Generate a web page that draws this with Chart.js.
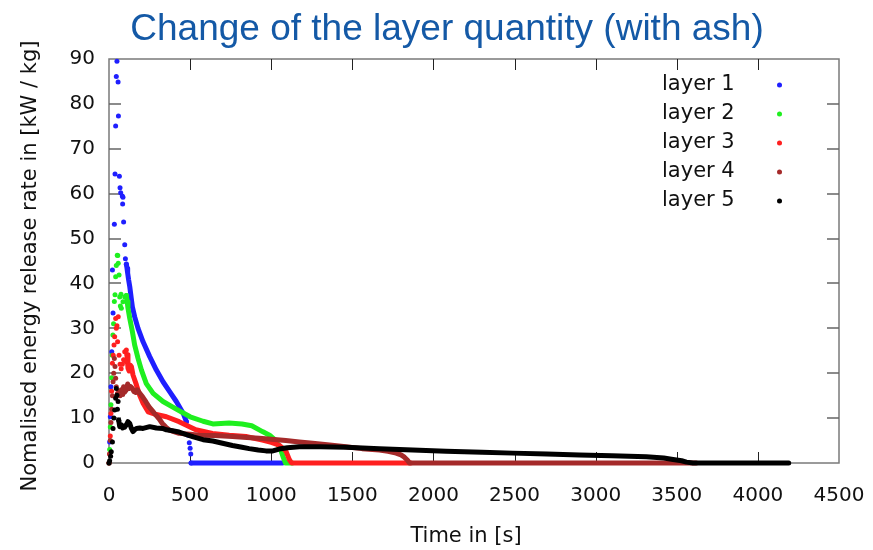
<!DOCTYPE html>
<html>
<head>
<meta charset="utf-8">
<script src="https://cdn.jsdelivr.net/npm/chart.js@4.4.1/dist/chart.umd.min.js"></script>
<style>
  html, body { margin: 0; padding: 0; background: #fff; }
  #wrap { width: 873px; height: 550px; position: relative; }
</style>
</head>
<body>
<div id="wrap"><canvas id="chart"></canvas></div>
<script>
// time in s / normalised energy release rate in kW/kg, one pair per layer
const layer1Time = [0, 4, 8, 12, 17, 21, 25, 33, 37, 41, 45, 49, 56, 58, 64, 68, 72, 82, 84, 86, 90, 97, 101, 107, 111, 115, 121, 128, 136, 144, 158, 179, 210, 251, 292, 333, 374, 415, 457, 477, 488, 495, 500, 504, 506, 1070];
const layer1Rate = [0, 4.7, 10.3, 17, 24.8, 43, 33.4, 53.2, 64.4, 75.1, 86.1, 89.5, 84.9, 77.3, 63.9, 61.3, 60.2, 59.5, 57.7, 59.2, 53.7, 48.6, 45.5, 44.3, 43.4, 42.3, 40.8, 39.3, 37, 34.8, 32.6, 30, 27, 23.7, 20.7, 18.1, 15.9, 13.7, 11.1, 9.2, 6.2, 4.5, 3.3, 2, 0, 0];

const layer2Time = [0, 4, 8, 12, 16, 20, 24, 28, 33, 37, 41, 45, 51, 54, 57, 62, 66, 70, 74, 76, 86, 97, 107, 112, 117, 128, 144, 158, 179, 200, 230, 272, 333, 415, 500, 580, 640, 740, 820, 880, 946, 990, 1029, 1060, 1075, 1088, 1130];
const layer2Rate = [0, 3, 8, 13, 19, 24, 28.5, 31, 36, 37.5, 41.5, 44, 46.3, 46.2, 44.5, 41.9, 37, 35, 37.6, 34.5, 35.9, 37, 37.3, 36, 34.5, 32.2, 29.3, 26.3, 23.3, 20.7, 17.7, 15.5, 13.7, 12, 10.3, 9.3, 8.7, 8.9, 8.7, 8.3, 7, 6.2, 5, 2.8, 1.2, 0, 0];

const layer3Time = [0, 4, 8, 12, 16, 21, 26, 31, 35, 41, 45, 49, 53, 57, 62, 68, 75, 82, 90, 97, 103, 107, 111, 117, 124, 131, 138, 148, 169, 189, 210, 241, 292, 354, 432, 535, 638, 741, 844, 946, 1000, 1049, 1090, 1111, 1125, 1860];
const layer3Rate = [0, 2, 6, 11, 16, 22.2, 24, 26.3, 28.1, 32.2, 30, 30.6, 27, 32.6, 24, 22, 21, 22, 23, 24.8, 22.6, 25.2, 24.1, 21.1, 20.5, 21.8, 21.5, 19.6, 17.4, 15.1, 13.3, 11.4, 10.8, 10.3, 9.2, 7.4, 6.6, 6.2, 5.9, 5.1, 4.6, 4, 2.7, 0.8, 0, 0];

const layer4Time = [0, 4, 8, 12, 17, 21, 25, 29, 33, 37, 41, 45, 52, 56, 62, 68, 76, 84, 90, 97, 107, 115, 123, 134, 144, 154, 165, 175, 190, 206, 228, 247, 268, 288, 310, 329, 350, 370, 400, 432, 500, 556, 650, 761, 850, 926, 1000, 1090, 1173, 1255, 1360, 1461, 1560, 1667, 1720, 1770, 1800, 1821, 1840, 1852, 3620];
const layer4Rate = [0, 2, 5, 9, 12, 15, 18.1, 20, 23.3, 21.5, 18.9, 17, 15.5, 15.1, 16, 15, 16.3, 15.3, 17, 15.8, 16.3, 17.6, 16.6, 17, 16.6, 15.9, 15.7, 16.3, 15.5, 14.8, 13.6, 12.5, 11.6, 10.7, 9.8, 8.8, 8, 7.4, 7, 6.6, 6.4, 6.2, 6.1, 5.9, 5.7, 5.5, 5.3, 5, 4.7, 4.4, 4, 3.6, 3.2, 2.9, 2.6, 2.2, 1.8, 1.3, 0.6, 0, 0];

const layer5Time = [0, 4, 10, 14, 21, 25, 30, 35, 41, 45, 49, 52, 56, 60, 66, 72, 76, 84, 90, 97, 107, 117, 128, 138, 148, 158, 169, 190, 210, 251, 292, 330, 354, 391, 432, 473, 520, 580, 640, 700, 761, 820, 864, 920, 967, 1010, 1049, 1100, 1173, 1300, 1461, 1667, 1872, 2078, 2300, 2489, 2700, 2900, 3100, 3312, 3420, 3477, 3530, 3560, 3600, 4190];
const layer5Rate = [0, 0.5, 1.5, 2.5, 4.7, 7.7, 10, 11.8, 14.4, 16.6, 15.1, 12, 13.7, 9.5, 8.1, 8.5, 8.5, 7.8, 8.2, 8, 8.5, 9.2, 8.8, 7.7, 7, 7.4, 7.7, 7.8, 7.7, 8.1, 7.8, 7.7, 7.4, 7.2, 6.9, 6.4, 5.8, 5.2, 4.9, 4.4, 3.9, 3.5, 3.2, 2.9, 2.7, 2.7, 3.1, 3.4, 3.6, 3.6, 3.5, 3.2, 2.9, 2.6, 2.4, 2.2, 2, 1.8, 1.6, 1.4, 1.1, 0.8, 0.5, 0.2, 0, 0];

const layerNames = ['layer 1', 'layer 2', 'layer 3', 'layer 4', 'layer 5'];
const layerColors = ['#1f1fff', '#1fef1f', '#ff1f1f', '#a52a2a', '#000000'];
// time spans where the samples are scattered and shown as single dots
const scatterSpans = [[[0, 107], [477, 506]], [[0, 107]], [[0, 111]], [[0, 84]], [[0, 60]]];

const xTicks = [0, 500, 1000, 1500, 2000, 2500, 3000, 3500, 4000, 4500];
const yTicks = [0, 10, 20, 30, 40, 50, 60, 70, 80, 90];

const times = [layer1Time, layer2Time, layer3Time, layer4Time, layer5Time];
const rates = [layer1Rate, layer2Rate, layer3Rate, layer4Rate, layer5Rate];

const inSpan = (spans, x) => spans.some(s => x >= s[0] && x <= s[1]);

const datasets = layerNames.map((name, i) => {
  const spans = scatterSpans[i];
  return {
    label: name,
    data: times[i].map((t, k) => ({ x: t, y: rates[i][k] })),
    borderColor: layerColors[i],
    backgroundColor: layerColors[i],
    borderWidth: 5,
    borderCapStyle: 'round',
    borderJoinStyle: 'round',
    pointBorderWidth: 0,
    pointRadius: ctx => (ctx.raw && inSpan(spans, ctx.raw.x) ? 2.5 : 0),
    pointHoverRadius: 0,
    tension: 0,
    clip: 6,
    order: layerNames.length - i,
    segment: {
      borderColor: ctx => {
        const a = ctx.p0.parsed.x, b = ctx.p1.parsed.x;
        const hidden = spans.some(s => a >= s[0] && b <= s[1]);
        return hidden ? 'rgba(0,0,0,0)' : layerColors[i];
      }
    }
  };
});

const FONT = '"DejaVu Sans", Verdana, sans-serif';

// frame with inward ticks on all four sides, plus title, axis titles and legend
const decorations = {
  id: 'decorations',
  beforeDatasetsDraw(chart) {
    const { ctx, chartArea: a, scales: { x, y } } = chart;
    ctx.save();
    ctx.strokeStyle = '#7a7a7a';
    ctx.lineWidth = 1.5;
    ctx.strokeRect(a.left, a.top, a.width, a.height);
    ctx.lineWidth = 1;
    ctx.strokeStyle = '#222';
    xTicks.slice(1, -1).forEach(v => {
      const px = Math.round(x.getPixelForValue(v)) + 0.5;
      ctx.beginPath();
      ctx.moveTo(px, a.bottom); ctx.lineTo(px, a.bottom - 11);
      ctx.moveTo(px, a.top); ctx.lineTo(px, a.top + 11);
      ctx.stroke();
    });
    ctx.strokeStyle = '#666';
    ctx.lineWidth = 1.5;
    yTicks.slice(1, -1).forEach(v => {
      const py = Math.round(y.getPixelForValue(v));
      ctx.beginPath();
      ctx.moveTo(a.left, py); ctx.lineTo(a.left + 12, py);
      ctx.moveTo(a.right, py); ctx.lineTo(a.right - 12, py);
      ctx.stroke();
    });
    ctx.restore();
  },
  afterDraw(chart) {
    const { ctx } = chart;
    ctx.save();
    ctx.fillStyle = '#1459a6';
    ctx.font = '37px "Liberation Sans", Arial, sans-serif';
    ctx.textAlign = 'center';
    ctx.textBaseline = 'alphabetic';
    ctx.fillText('Change of the layer quantity (with ash)', 447, 40);

    ctx.fillStyle = '#111';
    ctx.font = '21px ' + FONT;
    ctx.textBaseline = 'middle';
    ctx.fillText('Time in [s]', 466, 537);

    ctx.save();
    ctx.translate(31, 266);
    ctx.rotate(-Math.PI / 2);
    ctx.fillText('Nomalised energy release rate in [kW / kg]', 0, 0);
    ctx.restore();

    ctx.textAlign = 'left';
    layerNames.forEach((name, i) => {
      const yy = 85 + i * 29;
      ctx.fillStyle = '#111';
      ctx.fillText(name, 662, yy);
      ctx.fillStyle = layerColors[i];
      ctx.beginPath();
      ctx.arc(779.5, yy, 2.5, 0, Math.PI * 2);
      ctx.fill();
    });
    ctx.restore();
  }
};

new Chart(document.getElementById('chart'), {
  type: 'line',
  data: { datasets },
  plugins: [decorations],
  options: {
    responsive: true,
    maintainAspectRatio: false,
    animation: false,
    events: [],
    layout: { padding: { top: 59, right: 34, left: 0, bottom: 0 } },
    plugins: { legend: { display: false }, tooltip: { enabled: false }, title: { display: false } },
    scales: {
      x: {
        type: 'linear',
        min: 0,
        max: 4500,
        afterBuildTicks: s => { s.ticks = xTicks.map(v => ({ value: v })); },
        afterFit: s => { s.height = 87; s.paddingLeft = 0; s.paddingRight = 0; },
        grid: { display: false, drawTicks: false },
        border: { display: false },
        ticks: { color: '#111', font: { family: FONT, size: 20 }, padding: 21, maxRotation: 0, autoSkip: false, callback: v => String(v) }
      },
      y: {
        type: 'linear',
        min: 0,
        max: 90,
        afterBuildTicks: s => { s.ticks = yTicks.map(v => ({ value: v })); },
        afterFit: s => { s.width = 109; s.paddingTop = 0; s.paddingBottom = 0; },
        grid: { display: false, drawTicks: false },
        border: { display: false },
        ticks: { color: '#111', font: { family: FONT, size: 20 }, padding: 14, autoSkip: false, callback: v => String(v) }
      }
    }
  }
});
</script>
</body>
</html>
